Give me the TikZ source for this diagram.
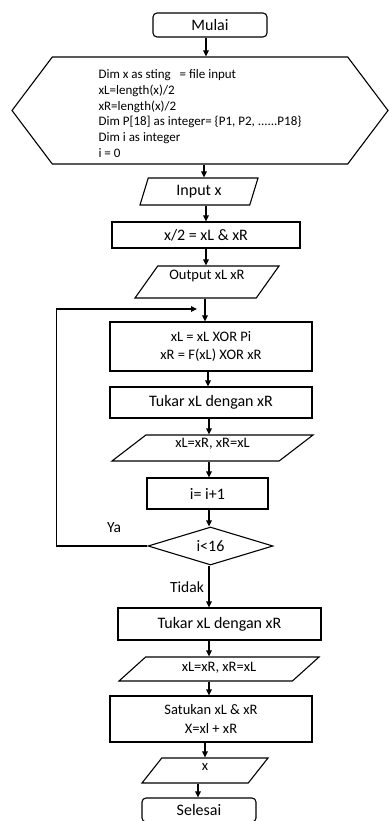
\documentclass[tikz,border=0pt]{standalone}
\usepackage{fontspec}
\setmainfont{Carlito}
\usetikzlibrary{arrows.meta, shapes.geometric, shapes.symbols}

\begin{document}
\begin{tikzpicture}[
    x=1pt, y=-1pt,
    >={Triangle[length=6pt, width=5.5pt]},
    line width=1.1pt,
    box/.style={draw, rectangle, inner sep=0pt,
                font=\fontsize{16}{19}\selectfont},
    term/.style={box, rounded corners=4pt},
    io/.style={draw, trapezium, trapezium stretches body, inner sep=0pt,
               text height=10.5pt, font=\fontsize{14.5}{17}\selectfont},
    lbl/.style={font=\fontsize{15.5}{18}\selectfont},
    arr/.style={->, line width=1.1pt}
  ]
  \useasboundingbox (0,0) rectangle (389,821);

  \node[term, minimum width=114, minimum height=24] (mulai) at (210,25) {Mulai};
  \node[draw, signal, signal to=east and west, signal pointer angle=106,
        minimum width=376, minimum height=107, inner sep=0pt, align=left,
        text height=94pt,
        font=\fontsize{13}{15.8}\selectfont] (init) at (200,110.5)
    {Dim x as sting\ \ \ = file input\\
     xL=length(x)/2\\
     xR=length(x)/2\\
     Dim P[18] as integer= \{P1, P2, ......P18\}\\
     Dim i as integer\\
     i = 0};
  \node[io, trapezium left angle=57.8, trapezium right angle=122.2,
        minimum width=118, minimum height=27,
        font=\fontsize{16}{19}\selectfont] (input) at (199,191.5) {Input x};
  \node[box, minimum width=188, minimum height=26] (half) at (206,235)
    {x/2 = xL \& xR};
  \node[io, trapezium left angle=48.8, trapezium right angle=131.2,
        minimum width=144, minimum height=32, text depth=15.5pt]
    (output) at (207,282) {Output xL xR};
  \node[box, minimum width=202, minimum height=49, align=center,
        font=\fontsize{14.5}{18}\selectfont] (round) at (211,346.5)
    {xL = xL XOR Pi\\ xR = F(xL) XOR xR};
  \node[box, minimum width=202, minimum height=31] (swapA) at (211,402.5)
    {Tukar xL dengan xR};
  \node[io, trapezium left angle=33, trapezium right angle=147,
        minimum width=201, minimum height=26, text depth=11.5pt]
    (paraA) at (212.5,448) {xL=xR, xR=xL};
  \node[box, minimum width=121, minimum height=31] (inc) at (207.5,493.5)
    {i= i+1};
  \node[draw, diamond, aspect=3.3, minimum width=125, minimum height=38,
        inner sep=0pt, font=\fontsize{16}{19}\selectfont]
    (cond) at (210.5,546) {i<16};
  \node[box, minimum width=203, minimum height=32] (swapB) at (219.5,624)
    {Tukar xL dengan xR};
  \node[io, trapezium left angle=31, trapezium right angle=149,
        minimum width=200, minimum height=24, text depth=5.5pt]
    (paraB) at (219,669) {xL=xR, xR=xL};
  \node[box, minimum width=202, minimum height=46, align=center,
        font=\fontsize{14.5}{19}\selectfont] (merge) at (211,719)
    {Satukan xL \& xR\\ X=xl + xR};
  \node[io, trapezium left angle=47.4, trapezium right angle=132.6,
        minimum width=126, minimum height=25, text depth=11pt]
    (result) at (205,770.5) {x};
  \node[term, minimum width=114, minimum height=24] (selesai) at (199,810)
    {Selesai};

  \node[lbl] (ya) at (114,528) {Ya};
  \node[lbl] (tidak) at (187,587) {Tidak};

  % main flow
  \draw[arr] ([xshift=-4pt]mulai.south) -- ([xshift=-4pt]mulai.south |- init.north);
  \draw[arr] ([xshift=4pt]init.south) -- ([xshift=4pt]init.south |- input.north);
  \draw[arr] ([xshift=7pt]input.south) -- ([xshift=7pt]input.south |- half.north);
  \draw[arr] (half.south) -- (half.south |- output.north);
  \draw[arr] ([xshift=-2pt]output.south) -- ([xshift=-2pt]output.south |- round.north);
  \draw[arr] ([xshift=-3pt]round.south) -- ([xshift=-3pt]round.south |- swapA.north);
  \draw[arr] ([xshift=-2pt]swapA.south) -- ([xshift=-2pt]swapA.south |- paraA.north);
  \draw[arr] ([xshift=-3.5pt]paraA.south) -- ([xshift=-3.5pt]paraA.south |- inc.north);
  \draw[arr] ([xshift=1.5pt]inc.south) -- ([xshift=1.5pt]inc.south |- cond.north);
  \draw[arr] ([xshift=-1.5pt]cond.south) -- ([xshift=-1.5pt]cond.south |- swapB.north);
  \draw[arr] ([xshift=-10.5pt]swapB.south) -- ([xshift=-10.5pt]swapB.south |- paraB.north);
  \draw[arr] ([xshift=-10pt]paraB.south) -- ([xshift=-10pt]paraB.south |- merge.north);
  \draw[arr] ([xshift=-6pt]merge.south) -- ([xshift=-6pt]merge.south |- result.north);
  \draw[arr] ([xshift=-7pt]result.south) -- ([xshift=-7pt]result.south |- selesai.north);

  % loop back
  \coordinate (back) at (197,309);
  \draw[arr] (cond.west) -- ++(-91,0) |- (back);
\end{tikzpicture}
\end{document}
